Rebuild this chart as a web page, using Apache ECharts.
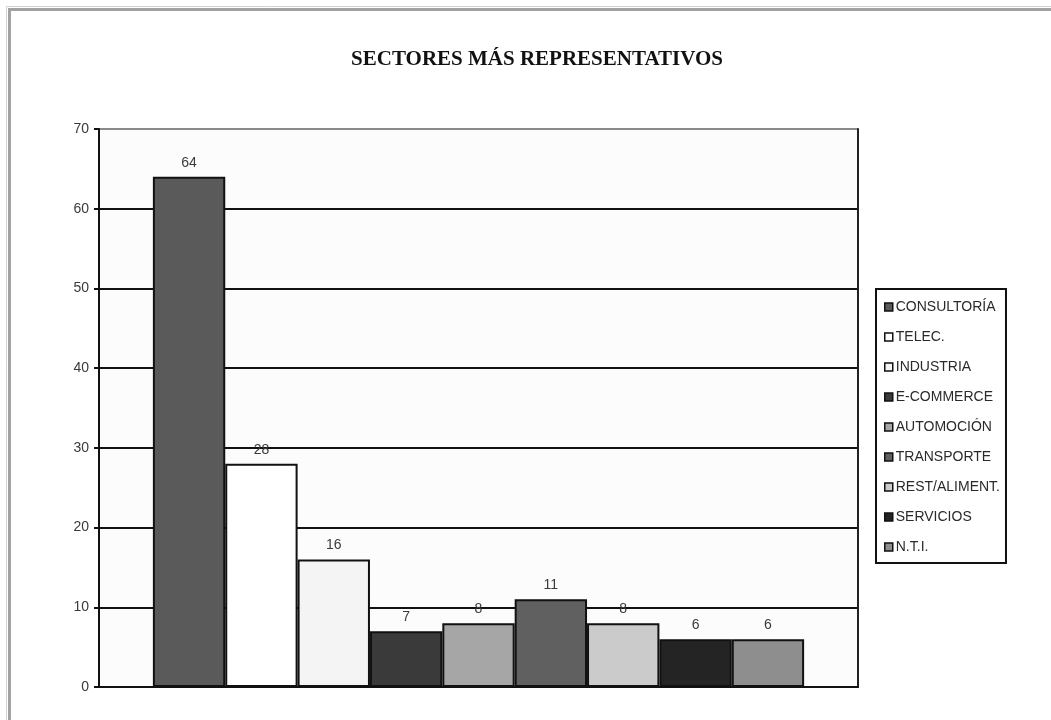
<!DOCTYPE html>
<html>
<head>
<meta charset="utf-8">
<script src="https://cdn.jsdelivr.net/npm/echarts@6/dist/echarts.min.js"></script>
<style>
  html, body { margin: 0; padding: 0; background: #ffffff; }
  #chart { width: 1051px; height: 720px; }
</style>
</head>
<body>
<div id="chart"></div>
<script>
// Sectors and their counts
const sectors = ['CONSULTORÍA', 'TELEC.', 'INDUSTRIA', 'E-COMMERCE', 'AUTOMOCIÓN', 'TRANSPORTE', 'REST/ALIMENT.', 'SERVICIOS', 'N.T.I.'];
const counts = [64, 28, 16, 7, 8, 11, 8, 6, 6];
const fills = ['#5a5a5a', '#ffffff', '#f4f4f4', '#3a3a3a', '#a6a6a6', '#606060', '#cbcbcb', '#242424', '#8e8e8e'];
const yTicks = [0, 10, 20, 30, 40, 50, 60, 70];

const chart = echarts.init(document.getElementById('chart'), null, { renderer: 'canvas' });

const series = sectors.map((name, i) => ({
  name: name,
  type: 'bar',
  data: [counts[i]],
  barGap: '0%',
  barCategoryGap: '14.2%',
  itemStyle: { color: fills[i], borderColor: '#111111', borderWidth: 2 },
  label: {
    show: true,
    position: 'top',
    distance: 7,
    color: '#3a3a3a',
    fontFamily: 'Liberation Sans, Arial, sans-serif',
    fontSize: 14
  },
  emphasis: { disabled: true }
}));

chart.setOption({
  animation: false,
  backgroundColor: '#ffffff',
  title: {
    text: 'SECTORES MÁS REPRESENTATIVOS',
    left: 532,
    textAlign: 'center',
    top: 44,
    textStyle: {
      fontFamily: 'Liberation Serif, Times New Roman, serif',
      fontWeight: 'bold',
      fontSize: 21,
      color: '#111111'
    }
  },
  legend: {
    orient: 'vertical',
    left: 876,
    top: 289,
    padding: [11, 6, 9, 8],
    itemWidth: 8,
    itemHeight: 8,
    itemGap: 16,
    icon: 'rect',
    borderColor: '#111111',
    borderWidth: 2,
    backgroundColor: '#ffffff',
    itemStyle: { borderColor: '#111111', borderWidth: 1.5 },
    textStyle: {
      fontFamily: 'Liberation Sans, Arial, sans-serif',
      fontSize: 14,
      color: '#2a2a2a',
      padding: [0, 0, 0, -2]
    },
    data: sectors
  },
  grid: {
    left: 99,
    right: 193,
    top: 129,
    bottom: 33,
    show: true,
    backgroundColor: '#fcfcfc',
    borderWidth: 0
  },
  xAxis: {
    type: 'category',
    data: [''],
    axisLine: { lineStyle: { color: '#111111', width: 2 } },
    axisTick: { show: false },
    axisLabel: { show: false }
  },
  yAxis: [{
    type: 'value',
    min: yTicks[0],
    max: yTicks[yTicks.length - 1],
    interval: 10,
    axisLine: { show: true, lineStyle: { color: '#111111', width: 2 } },
    axisTick: { show: true, length: 5, lineStyle: { color: '#111111', width: 2 } },
    axisLabel: {
      margin: 10,
      color: '#3a3a3a',
      fontFamily: 'Liberation Sans, Arial, sans-serif',
      fontSize: 14
    },
    splitLine: {
      show: true,
      lineStyle: {
        width: 2,
        color: yTicks.map(v => v === 70 ? '#8a8a8a' : '#111111')
      }
    }
  }, {
    type: 'value',
    position: 'right',
    min: yTicks[0],
    max: yTicks[yTicks.length - 1],
    interval: 10,
    axisLine: { show: true, lineStyle: { color: '#222222', width: 2 } },
    axisTick: { show: false },
    axisLabel: { show: false },
    splitLine: { show: false }
  }],
  graphic: [
    { type: 'polyline', silent: true, shape: { points: [[6.5, 720], [6.5, 6.5], [1051, 6.5]] }, style: { stroke: '#d2d2d2', lineWidth: 1, fill: null } },
    { type: 'polyline', silent: true, shape: { points: [[9.5, 720], [9.5, 9.5], [1051, 9.5]] }, style: { stroke: '#a2a2a2', lineWidth: 3, fill: null } }
  ],
  series: series
});
</script>
</body>
</html>
